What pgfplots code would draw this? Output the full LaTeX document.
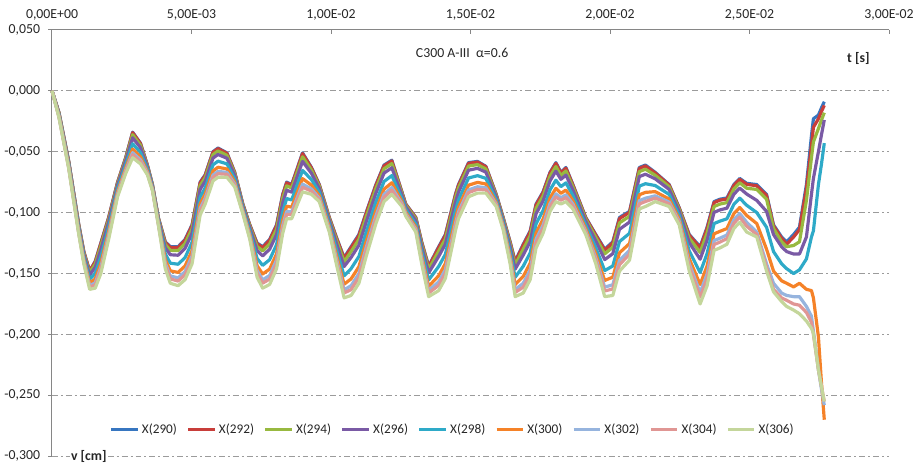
\documentclass[border=0pt]{standalone}
\usepackage{fontspec}
\setmainfont{Carlito}
\usepackage{pgfplots}
\pgfplotsset{compat=1.18}
\usepackage{pgfplotstable}

\definecolor{c290}{RGB}{55,118,192}
\definecolor{c292}{RGB}{200,62,58}
\definecolor{c294}{RGB}{152,185,64}
\definecolor{c296}{RGB}{122,90,165}
\definecolor{c298}{RGB}{46,170,200}
\definecolor{c300}{RGB}{245,130,40}
\definecolor{c302}{RGB}{150,180,222}
\definecolor{c304}{RGB}{224,150,148}
\definecolor{c306}{RGB}{196,214,155}
\definecolor{axisgray}{RGB}{134,134,134}
\definecolor{gridgray}{RGB}{155,155,155}

% vertical displacement v [cm] versus time t [s], nodes X(290)...X(306)
\pgfplotstableread{
t       s290   s292    s294    s296    s298    s300    s302    s304    s306
0.00000 0      0       0       0       0       0       0       0       0
0.00025 -0.018 -0.018  -0.0184 -0.0189 -0.0198 -0.0206 -0.0212 -0.0215 -0.022
0.00060 -0.058 -0.058  -0.0586 -0.0593 -0.0607 -0.0620 -0.0628 -0.0633 -0.064
0.00096 -0.110 -0.110  -0.1108 -0.1118 -0.1136 -0.1153 -0.1164 -0.1170 -0.118
0.00114 -0.132 -0.132  -0.1330 -0.1342 -0.1365 -0.1386 -0.1400 -0.1408 -0.142
0.00135 -0.148 -0.148  -0.1495 -0.1513 -0.1548 -0.1579 -0.1600 -0.1612 -0.163
0.00155 -0.140 -0.1404 -0.1422 -0.1448 -0.1499 -0.1545 -0.1576 -0.1594 -0.162
0.00175 -0.125 -0.1255 -0.1275 -0.1305 -0.1363 -0.1415 -0.1450 -0.1470 -0.150
0.00203 -0.104 -0.1044 -0.1058 -0.1080 -0.1121 -0.1159 -0.1184 -0.1198 -0.122
0.00235 -0.075 -0.0752 -0.0762 -0.0776 -0.0804 -0.0829 -0.0846 -0.0856 -0.087
0.00264 -0.055 -0.0553 -0.0563 -0.0579 -0.0609 -0.0636 -0.0654 -0.0664 -0.068
0.00289 -0.034 -0.0344 -0.0361 -0.0386 -0.0435 -0.0479 -0.0508 -0.0525 -0.055
0.00317 -0.043 -0.0433 -0.0447 -0.0467 -0.0507 -0.0542 -0.0566 -0.0580 -0.060
0.00342 -0.061 -0.0612 -0.0618 -0.0628 -0.0646 -0.0663 -0.0674 -0.0680 -0.069
0.00360 -0.077 -0.0771 -0.0775 -0.0781 -0.0793 -0.0803 -0.0810 -0.0814 -0.082
0.00381 -0.104 -0.1041 -0.1046 -0.1053 -0.1067 -0.1080 -0.1088 -0.1093 -0.110
0.00406 -0.124 -0.1244 -0.1262 -0.1288 -0.1339 -0.1385 -0.1416 -0.1434 -0.146
0.00424 -0.128 -0.1286 -0.1310 -0.1346 -0.1415 -0.1478 -0.1520 -0.1544 -0.158
0.00452 -0.128 -0.1286 -0.1312 -0.1350 -0.1424 -0.1491 -0.1536 -0.1562 -0.160
0.00477 -0.122 -0.1227 -0.1253 -0.1293 -0.1369 -0.1438 -0.1484 -0.1510 -0.155
0.00502 -0.110 -0.1106 -0.1132 -0.1170 -0.1244 -0.1311 -0.1356 -0.1382 -0.142
0.00531 -0.075 -0.0755 -0.0777 -0.0809 -0.0872 -0.0928 -0.0966 -0.0988 -0.102
0.00549 -0.069 -0.0695 -0.0714 -0.0743 -0.0798 -0.0848 -0.0882 -0.0901 -0.093
0.00577 -0.050 -0.0505 -0.0524 -0.0553 -0.0608 -0.0658 -0.0692 -0.0711 -0.074
0.00595 -0.047 -0.0475 -0.0494 -0.0523 -0.0578 -0.0628 -0.0662 -0.0681 -0.071
0.00627 -0.051 -0.0514 -0.0530 -0.0554 -0.0600 -0.0642 -0.0670 -0.0686 -0.071
0.00655 -0.067 -0.0672 -0.0682 -0.0696 -0.0724 -0.0749 -0.0766 -0.0776 -0.079
0.00684 -0.093 -0.0932 -0.0938 -0.0948 -0.0966 -0.0983 -0.0994 -0.1000 -0.101
0.00709 -0.110 -0.1102 -0.1112 -0.1126 -0.1154 -0.1179 -0.1196 -0.1206 -0.122
0.00735 -0.125 -0.1256 -0.1278 -0.1312 -0.1376 -0.1435 -0.1474 -0.1496 -0.153
0.00755 -0.128 -0.1287 -0.1314 -0.1355 -0.1433 -0.1504 -0.1552 -0.1579 -0.162
0.00780 -0.122 -0.1227 -0.1257 -0.1301 -0.1387 -0.1464 -0.1516 -0.1546 -0.159
0.00805 -0.110 -0.1107 -0.1136 -0.1179 -0.1262 -0.1338 -0.1388 -0.1417 -0.146
0.00827 -0.085 -0.0856 -0.0882 -0.0920 -0.0994 -0.1061 -0.1106 -0.1132 -0.117
0.00841 -0.075 -0.0756 -0.0780 -0.0816 -0.0885 -0.0948 -0.0990 -0.1014 -0.105
0.00859 -0.077 -0.0776 -0.0798 -0.0832 -0.0896 -0.0955 -0.0994 -0.1016 -0.105
0.00880 -0.063 -0.0636 -0.0660 -0.0696 -0.0765 -0.0828 -0.0870 -0.0894 -0.093
0.00898 -0.051 -0.0516 -0.0542 -0.0580 -0.0654 -0.0721 -0.0766 -0.0792 -0.083
0.00930 -0.063 -0.0634 -0.0652 -0.0678 -0.0729 -0.0775 -0.0806 -0.0824 -0.085
0.00958 -0.077 -0.0773 -0.0784 -0.0801 -0.0833 -0.0862 -0.0882 -0.0893 -0.091
0.00994 -0.104 -0.1042 -0.1052 -0.1066 -0.1094 -0.1119 -0.1136 -0.1146 -0.116
0.01019 -0.120 -0.1204 -0.1222 -0.1248 -0.1299 -0.1345 -0.1376 -0.1394 -0.142
0.01047 -0.137 -0.1377 -0.1403 -0.1443 -0.1519 -0.1588 -0.1634 -0.1660 -0.170
0.01072 -0.128 -0.1288 -0.1320 -0.1368 -0.1460 -0.1544 -0.1600 -0.1632 -0.168
0.01100 -0.118 -0.1188 -0.1220 -0.1268 -0.1360 -0.1444 -0.1500 -0.1532 -0.158
0.01126 -0.100 -0.1007 -0.1036 -0.1079 -0.1162 -0.1238 -0.1288 -0.1317 -0.136
0.01161 -0.077 -0.0776 -0.0802 -0.0840 -0.0914 -0.0981 -0.1026 -0.1052 -0.109
0.01190 -0.061 -0.0616 -0.0640 -0.0676 -0.0745 -0.0808 -0.0850 -0.0874 -0.091
0.01218 -0.057 -0.0576 -0.0598 -0.0632 -0.0696 -0.0755 -0.0794 -0.0816 -0.085
0.01254 -0.083 -0.0832 -0.0842 -0.0856 -0.0884 -0.0909 -0.0926 -0.0936 -0.095
0.01268 -0.093 -0.0932 -0.0940 -0.0952 -0.0975 -0.0996 -0.1010 -0.1018 -0.103
0.01304 -0.104 -0.1042 -0.1052 -0.1066 -0.1094 -0.1119 -0.1136 -0.1146 -0.116
0.01325 -0.124 -0.1244 -0.1258 -0.1280 -0.1321 -0.1359 -0.1384 -0.1398 -0.142
0.01350 -0.144 -0.1445 -0.1465 -0.1495 -0.1553 -0.1605 -0.1640 -0.1660 -0.169
0.01386 -0.128 -0.1287 -0.1316 -0.1359 -0.1442 -0.1518 -0.1568 -0.1597 -0.164
0.01410 -0.118 -0.1187 -0.1216 -0.1259 -0.1342 -0.1418 -0.1468 -0.1497 -0.154
0.01446 -0.085 -0.0856 -0.0880 -0.0916 -0.0985 -0.1048 -0.1090 -0.1114 -0.115
0.01457 -0.077 -0.0776 -0.0798 -0.0832 -0.0896 -0.0955 -0.0994 -0.1016 -0.105
0.01493 -0.059 -0.0596 -0.0618 -0.0652 -0.0716 -0.0775 -0.0814 -0.0836 -0.087
0.01525 -0.058 -0.0585 -0.0606 -0.0637 -0.0697 -0.0752 -0.0788 -0.0809 -0.084
0.01555 -0.062 -0.0624 -0.0642 -0.0668 -0.0719 -0.0765 -0.0796 -0.0814 -0.084
0.01592 -0.085 -0.0852 -0.0860 -0.0872 -0.0895 -0.0916 -0.0930 -0.0938 -0.095
0.01617 -0.104 -0.1042 -0.1050 -0.1062 -0.1085 -0.1106 -0.1120 -0.1128 -0.114
0.01642 -0.124 -0.1244 -0.1258 -0.1280 -0.1321 -0.1359 -0.1384 -0.1398 -0.142
0.01660 -0.140 -0.1406 -0.1429 -0.1464 -0.1531 -0.1591 -0.1632 -0.1655 -0.169
0.01689 -0.126 -0.1268 -0.1300 -0.1348 -0.1440 -0.1524 -0.1580 -0.1612 -0.166
0.01714 -0.115 -0.1158 -0.1190 -0.1238 -0.1330 -0.1414 -0.1470 -0.1502 -0.155
0.01735 -0.093 -0.0937 -0.0966 -0.1009 -0.1092 -0.1168 -0.1218 -0.1247 -0.129
0.01760 -0.083 -0.0837 -0.0864 -0.0905 -0.0983 -0.1054 -0.1102 -0.1129 -0.117
0.01785 -0.067 -0.0676 -0.0702 -0.0740 -0.0814 -0.0881 -0.0926 -0.0952 -0.099
0.01806 -0.059 -0.0596 -0.0622 -0.0660 -0.0734 -0.0801 -0.0846 -0.0872 -0.091
0.01824 -0.067 -0.0675 -0.0696 -0.0727 -0.0787 -0.0842 -0.0878 -0.0899 -0.093
0.01842 -0.063 -0.0636 -0.0658 -0.0692 -0.0756 -0.0815 -0.0854 -0.0876 -0.091
0.01867 -0.077 -0.0774 -0.0790 -0.0814 -0.0860 -0.0902 -0.0930 -0.0946 -0.097
0.01913 -0.104 -0.1043 -0.1054 -0.1071 -0.1103 -0.1132 -0.1152 -0.1163 -0.118
0.01949 -0.118 -0.1185 -0.1204 -0.1233 -0.1288 -0.1338 -0.1372 -0.1391 -0.142
0.01981 -0.130 -0.1308 -0.1339 -0.1386 -0.1476 -0.1557 -0.1612 -0.1643 -0.169
0.02010 -0.124 -0.1249 -0.1284 -0.1337 -0.1438 -0.1530 -0.1592 -0.1627 -0.168
0.02034 -0.104 -0.1049 -0.1084 -0.1137 -0.1238 -0.1330 -0.1392 -0.1427 -0.148
0.02070 -0.099 -0.0998 -0.1030 -0.1078 -0.1170 -0.1254 -0.1310 -0.1342 -0.139
0.02105 -0.063 -0.0637 -0.0664 -0.0705 -0.0783 -0.0854 -0.0902 -0.0929 -0.097
0.02127 -0.061 -0.0617 -0.0644 -0.0685 -0.0763 -0.0834 -0.0882 -0.0909 -0.095
0.02162 -0.067 -0.0675 -0.0694 -0.0723 -0.0778 -0.0828 -0.0862 -0.0881 -0.091
0.02212 -0.077 -0.0774 -0.0788 -0.0810 -0.0851 -0.0889 -0.0914 -0.0928 -0.095
0.02248 -0.096 -0.0963 -0.0974 -0.0991 -0.1023 -0.1052 -0.1072 -0.1083 -0.110
0.02284 -0.118 -0.1186 -0.1210 -0.1246 -0.1315 -0.1378 -0.1420 -0.1444 -0.148
0.02323 -0.128 -0.1289 -0.1327 -0.1383 -0.1492 -0.1590 -0.1656 -0.1694 -0.175
0.02348 -0.112 -0.1130 -0.1168 -0.1226 -0.1336 -0.1437 -0.1504 -0.1542 -0.160
0.02373 -0.091 -0.0918 -0.0950 -0.0998 -0.1090 -0.1174 -0.1230 -0.1262 -0.131
0.02394 -0.089 -0.0898 -0.0930 -0.0978 -0.1070 -0.1154 -0.1210 -0.1242 -0.129
0.02419 -0.088 -0.0888 -0.0918 -0.0964 -0.1051 -0.1131 -0.1184 -0.1214 -0.126
0.02444 -0.077 -0.0777 -0.0806 -0.0849 -0.0932 -0.1008 -0.1058 -0.1087 -0.113
0.02465 -0.072 -0.0727 -0.0756 -0.0799 -0.0882 -0.0958 -0.1008 -0.1037 -0.108
0.02490 -0.076 -0.0768 -0.0800 -0.0848 -0.0940 -0.1024 -0.1080 -0.1112 -0.116
0.02526 -0.077 -0.078  -0.081  -0.090  -0.100  -0.109  -0.116  -0.118  -0.120
0.02561 -0.085 -0.086  -0.089  -0.099  -0.112  -0.130  -0.142  -0.145  -0.148
0.02586 -0.110 -0.111  -0.113  -0.118  -0.132  -0.148  -0.158  -0.163  -0.165
0.02615 -0.120 -0.121  -0.124  -0.128  -0.142  -0.156  -0.166  -0.170  -0.173
0.02633 -0.124 -0.126  -0.128  -0.132  -0.146  -0.158  -0.168  -0.172  -0.177
0.02658 -0.118 -0.120  -0.127  -0.134  -0.150  -0.161  -0.169  -0.175  -0.180
0.02679 -0.112 -0.114  -0.124  -0.134  -0.147  -0.158  -0.169  -0.176  -0.183
0.02704 -0.077 -0.080  -0.090  -0.120  -0.138  -0.163  -0.177  -0.182  -0.189
0.02722 -0.037 -0.045  -0.055  -0.085  -0.120  -0.164  -0.185  -0.190  -0.195
0.02729 -0.023 -0.030  -0.042  -0.072  -0.115  -0.170  -0.197  -0.200  -0.199
0.02747 -0.020 -0.023  -0.031  -0.050  -0.077  -0.202  -0.229  -0.229  -0.229
0.02758 -0.014 -0.017  -0.024  -0.036  -0.060  -0.240  -0.245  -0.243  -0.243
0.02768 -0.009 -0.012  -0.018  -0.024  -0.043  -0.270  -0.258  -0.255  -0.255
}\disp

\begin{document}
\begin{tikzpicture}
\begin{axis}[
    scale only axis,
    width=631.5pt,
    height=321.75pt,
    xmin=0, xmax=0.03,
    ymin=-0.3, ymax=0.05,
    axis x line*=top,
    axis y line*=left,
    axis line style={draw=axisgray, line width=0.75pt},
    xtick={0,0.005,0.01,0.015,0.02,0.025,0.03},
    xticklabels={{0,00E+00},{5,00E-03},{1,00E-02},{1,50E-02},{2,00E-02},{2,50E-02},{3,00E-02}},
    scaled x ticks=false,
    ytick={-0.3,-0.25,-0.2,-0.15,-0.1,-0.05,0,0.05},
    scaled y ticks=false,
    yticklabel style={xshift=-2.5pt,
        /pgf/number format/fixed,
        /pgf/number format/fixed zerofill,
        /pgf/number format/precision=3,
        /pgf/number format/use comma,
        /pgf/number format/assume math mode=true},
    xtick align=inside,
    ytick align=outside,
    major tick length=3pt,
    tick style={draw=axisgray, line width=0.75pt},
    tick label style={font=\fontsize{10.4}{12}\selectfont, text=black!85},
    xticklabel style={yshift=4pt},
    ymajorgrids,
    grid style={draw=gridgray, line width=0.75pt, dash pattern=on 4.5pt off 2.25pt on 1.5pt off 2.25pt},
    every axis plot/.append style={line width=2.4pt, line join=round},
    legend image code/.code={\draw[#1] (0pt,0pt) -- (20pt,0pt);},
    legend style={at={(0.479,0.063)}, anchor=center, draw=none, fill=none,
        legend columns=-1, font=\fontsize{10}{12}\selectfont, text=black!85,
        /tikz/every even column/.append style={column sep=5.3pt}},
    clip=false,
]
\addplot[c290] table[x=t, y=s290] {\disp};
\addplot[c292] table[x=t, y=s292] {\disp};
\addplot[c294] table[x=t, y=s294] {\disp};
\addplot[c296] table[x=t, y=s296] {\disp};
\addplot[c298] table[x=t, y=s298] {\disp};
\addplot[c300] table[x=t, y=s300] {\disp};
\addplot[c302] table[x=t, y=s302] {\disp};
\addplot[c304] table[x=t, y=s304] {\disp};
\addplot[c306] table[x=t, y=s306] {\disp};
\legend{X(290), X(292), X(294), X(296), X(298), X(300), X(302), X(304), X(306)}

\node[font=\fontsize{10.4}{12}\selectfont, text=black!85] at (axis cs:0.0147,0.031) {C300 A-III\ \ α=0.6};
\node[font=\fontsize{10.4}{12}\selectfont\bfseries, text=black!85] at (axis cs:0.0289,0.0268) {t [s]};
\node[font=\fontsize{10.4}{12}\selectfont\bfseries, text=black!85, fill=white, inner sep=1pt] at (axis cs:0.00132,-0.3) {v [cm]};
\end{axis}
\path ([xshift=-38.25pt, yshift=-6.75pt]current axis.south west) rectangle ([xshift=18.75pt, yshift=22.5pt]current axis.north east);
\end{tikzpicture}
\end{document}
